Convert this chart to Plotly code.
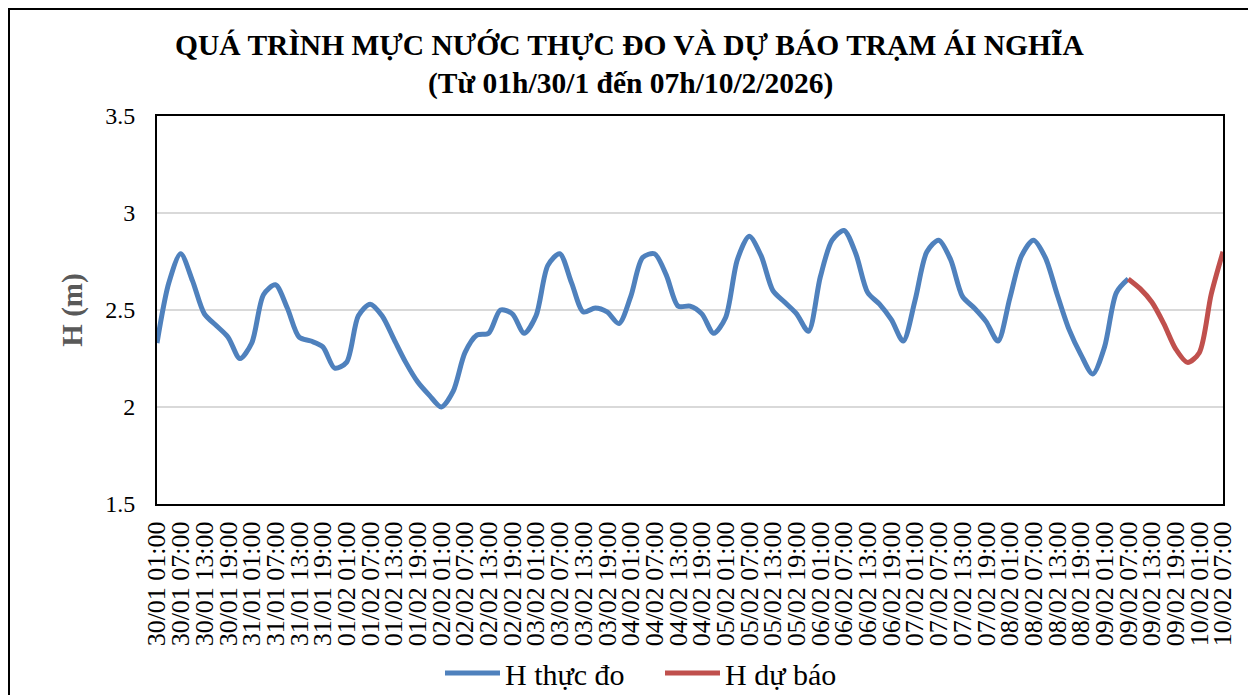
import pandas as pd
import plotly.graph_objects as go

# ---- data (3-hourly readings, from 30/01 01:00) ----
start_time = "2026-01-30 01:00"
step_hours = 3

h_thuc_do = [
    2.33, 2.64, 2.79, 2.65, 2.48, 2.42, 2.36, 2.25,            # 30/01
    2.33, 2.58, 2.63, 2.51, 2.36, 2.34, 2.31, 2.20,            # 31/01
    2.23, 2.47, 2.53, 2.47, 2.35, 2.23, 2.13, 2.06,            # 01/02
    2.00, 2.08, 2.28, 2.37, 2.38, 2.50, 2.48, 2.38,            # 02/02
    2.47, 2.73, 2.79, 2.64, 2.49, 2.51, 2.49, 2.43,            # 03/02
    2.57, 2.77, 2.79, 2.68, 2.52, 2.52, 2.48, 2.38,            # 04/02
    2.46, 2.76, 2.88, 2.78, 2.60, 2.54, 2.48, 2.39,            # 05/02
    2.67, 2.86, 2.91, 2.79, 2.59, 2.53, 2.45, 2.34,            # 06/02
    2.55, 2.80, 2.86, 2.76, 2.57, 2.51, 2.44, 2.34,            # 07/02
    2.56, 2.78, 2.86, 2.77, 2.58, 2.40, 2.27, 2.17,            # 08/02
    2.31, 2.59, 2.66,                                          # 09/02 01-07
]
h_du_bao = [2.66, 2.61, 2.54, 2.43, 2.30, 2.23, 2.28, 2.58, 2.80]  # 09/02 07:00 -> 10/02 07:00

series_names = ["H thực đo", "H dự báo"]
series_colors = ["#4F81BD", "#C0504D"]
title_lines = ["QUÁ TRÌNH MỰC NƯỚC THỰC ĐO VÀ DỰ BÁO TRẠM ÁI NGHĨA",
               "(Từ 01h/30/1 đến 07h/10/2/2026)"]
y_title = "H (m)"
y_range = [1.5, 3.5]
y_dtick = 0.5

n_total = len(h_thuc_do) + len(h_du_bao) - 1
times = pd.date_range(start_time, periods=n_total, freq=f"{step_hours}h")
categories = [t.strftime("%d/%m %H:%M") for t in times]
tick_labels = categories[::2]   # every 6 hours

x_obs = categories[:len(h_thuc_do)]
x_fc = categories[len(h_thuc_do) - 1:]

# ---- layout geometry (page body has an 8px offset) ----
OFF = 8
W, H = 1256 - OFF, 695 - OFF
ml, mr, mt, mb = 157 - OFF, 33, 116 - OFF, 191
pw, ph = W - ml - mr, H - mt - mb

def fx(x):  # reference-window pixel -> paper fraction
    return (x - OFF - ml) / pw

def fy(y):
    return (H - mb - (y - OFF)) / ph

FONT = '"Liberation Serif", "Times New Roman", Times, serif'

fig = go.Figure()
fig.add_trace(go.Scatter(x=x_obs, y=h_thuc_do, mode="lines", name=series_names[0],
                         line=dict(color=series_colors[0], width=5, shape="spline", smoothing=0.8)))
fig.add_trace(go.Scatter(x=x_fc, y=h_du_bao, mode="lines", name=series_names[1],
                         line=dict(color=series_colors[1], width=5, shape="spline", smoothing=0.8)))

annotations = [
    dict(text="<b>" + title_lines[0] + "</b>", x=fx(629), y=fy(45), xref="paper", yref="paper",
         xanchor="center", yanchor="middle", showarrow=False,
         font=dict(family=FONT, size=29.5, color="black")),
    dict(text="<b>" + title_lines[1] + "</b>", x=fx(630), y=fy(83), xref="paper", yref="paper",
         xanchor="center", yanchor="middle", showarrow=False,
         font=dict(family=FONT, size=29.5, color="black")),
]
shapes = [dict(type="rect", xref="paper", yref="paper",
               x0=fx(9), x1=fx(1250), y0=fy(720), y1=fy(9),
               line=dict(color="black", width=2), fillcolor="rgba(0,0,0,0)", layer="below")]

# custom legend (line sample + label)
legend_items = [(445, 500, 503), (665, 720, 723)]
for (lx0, lx1, tx), name, color in zip(legend_items, series_names, series_colors):
    shapes.append(dict(type="line", xref="paper", yref="paper",
                       x0=fx(lx0), x1=fx(lx1), y0=fy(673), y1=fy(673),
                       line=dict(color=color, width=5)))
    annotations.append(dict(text=name, x=fx(tx), y=fy(674), xref="paper", yref="paper",
                            xanchor="left", yanchor="middle", showarrow=False,
                            font=dict(family=FONT, size=30, color="black")))

fig.update_layout(
    width=W, height=H,
    margin=dict(l=ml, r=mr, t=mt, b=mb, pad=0, autoexpand=False),
    paper_bgcolor="white", plot_bgcolor="white",
    font=dict(family=FONT, color="black"),
    showlegend=False,
    xaxis=dict(type="category", categoryorder="array", categoryarray=categories,
               range=[0, len(categories) - 1], automargin=False,
               tickmode="array", tickvals=tick_labels, ticktext=tick_labels,
               tickangle=-90, tickfont=dict(family=FONT, size=26, color="black"),
               ticks="outside", ticklen=5, tickcolor="rgba(0,0,0,0)",
               showgrid=False, showline=True, linecolor="black", linewidth=2, mirror=True,
               zeroline=False),
    yaxis=dict(range=y_range, dtick=y_dtick, tick0=1.5, automargin=False,
               tickfont=dict(family=FONT, size=24, color="black"),
               ticks="outside", ticklen=15, tickcolor="rgba(0,0,0,0)",
               showgrid=True, gridcolor="#D9D9D9", gridwidth=1.5,
               showline=True, linecolor="black", linewidth=2, mirror=True, zeroline=False,
               title=dict(text="<b>" + y_title + "</b>", standoff=14,
                          font=dict(family=FONT, size=29, color="#595959"))),
    shapes=shapes,
    annotations=annotations,
)

fig.write_html("out.html")
